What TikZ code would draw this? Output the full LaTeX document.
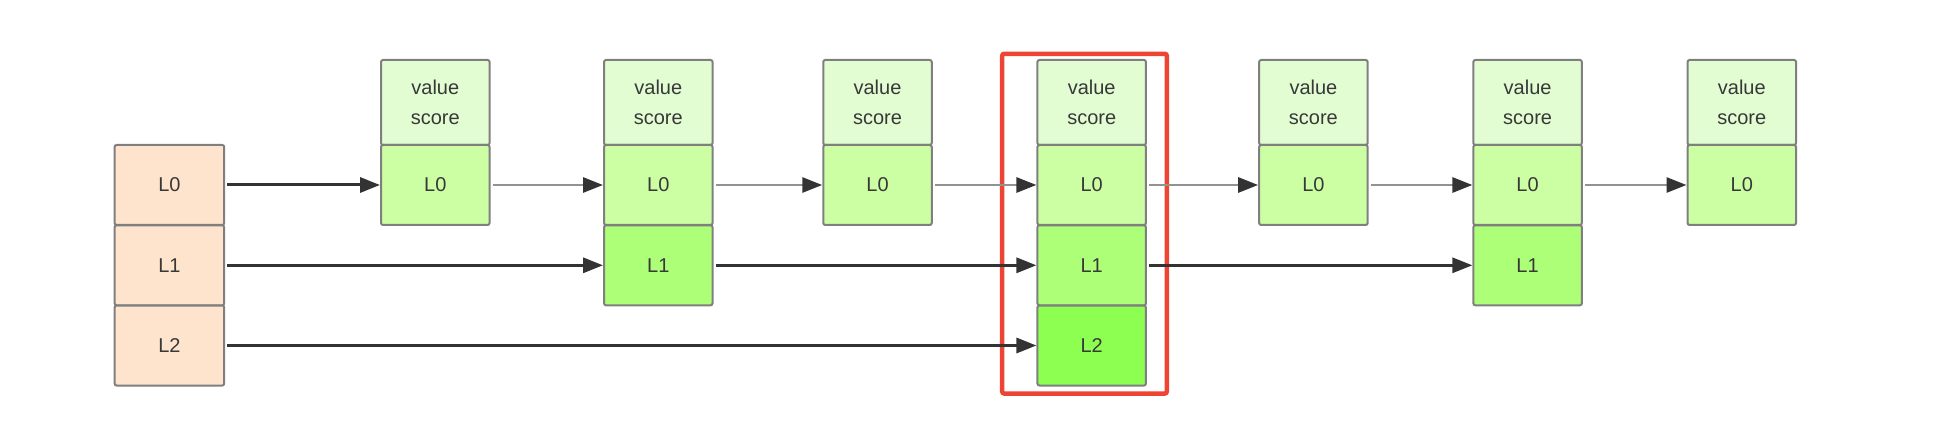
\documentclass[tikz,border=0pt]{standalone}
\usepackage{fontspec}
\setmainfont{Liberation Sans}
\usetikzlibrary{arrows.meta}
\definecolor{bordergray}{HTML}{7F7F7F}
\definecolor{txt}{HTML}{383838}
\definecolor{hdrfill}{HTML}{E3FDD3}
\definecolor{lzero}{HTML}{CCFFA3}
\definecolor{lone}{HTML}{ADFF78}
\definecolor{ltwo}{HTML}{8CFF50}
\definecolor{peach}{HTML}{FEE4CC}
\definecolor{darkline}{HTML}{333333}
\definecolor{grayline}{HTML}{929292}
\definecolor{redframe}{HTML}{EE4433}
\tikzset{
  cell/.style={draw=bordergray, line width=2pt, rounded corners=2pt, inner sep=0pt,
    minimum width=108.5pt, minimum height=80pt, text=txt,
    font=\fontsize{20}{30}\selectfont},
  hdrcell/.style={cell, fill=hdrfill, minimum height=85pt, align=center},
  zcell/.style={cell, fill=lzero},
  ocell/.style={cell, fill=lone},
  tcell/.style={cell, fill=ltwo},
  headcell/.style={cell, fill=peach, minimum width=109.6pt},
  darkarrow/.style={draw=darkline, line width=3pt, shorten <=2pt,
    -{Triangle[length=20pt,width=15pt,color=darkline]}},
  grayarrow/.style={draw=grayline, line width=2.8pt, shorten <=2pt,
    -{Triangle[length=20pt,width=15pt,color=darkline]}}
}
\begin{document}
\begin{tikzpicture}[x=1pt,y=-1pt]
\useasboundingbox (0,0) rectangle (1953,430);
% head
\node[headcell] (h0) at (169.4,185) {L0};
\node[headcell] (h1) at (169.4,265.3) {L1};
\node[headcell] (h2) at (169.4,345.5) {L2};
% column 1
\node[hdrcell] (c1h) at (435.3,102.5) {value\\score};
\node[zcell] (c1a) at (435.3,185) {L0};
% column 2
\node[hdrcell] (c2h) at (658.3,102.5) {value\\score};
\node[zcell] (c2a) at (658.3,185) {L0};
\node[ocell] (c2b) at (658.3,265.3) {L1};
% column 3
\node[hdrcell] (c3h) at (877.5,102.5) {value\\score};
\node[zcell] (c3a) at (877.5,185) {L0};
% column 4
\node[hdrcell] (c4h) at (1091.7,102.5) {value\\score};
\node[zcell] (c4a) at (1091.7,185) {L0};
\node[ocell] (c4b) at (1091.7,265.3) {L1};
\node[tcell] (c4c) at (1091.7,345.5) {L2};
% column 5
\node[hdrcell] (c5h) at (1313.4,102.5) {value\\score};
\node[zcell] (c5a) at (1313.4,185) {L0};
% column 6
\node[hdrcell] (c6h) at (1527.6,102.5) {value\\score};
\node[zcell] (c6a) at (1527.6,185) {L0};
\node[ocell] (c6b) at (1527.6,265.3) {L1};
% column 7
\node[hdrcell] (c7h) at (1741.8,102.5) {value\\score};
\node[zcell] (c7a) at (1741.8,185) {L0};
% highlight frame
\draw[redframe, line width=4.5pt, rounded corners=2pt] (1002.2,53.8) rectangle (1166.8,393.5);
% level 0
\draw[darkarrow] (h0.east) -- (c1a.west);
\draw[grayarrow] (c1a.east) -- (c2a.west);
\draw[grayarrow] (c2a.east) -- (c3a.west);
\draw[grayarrow] (c3a.east) -- (c4a.west);
\draw[grayarrow] (c4a.east) -- (c5a.west);
\draw[grayarrow] (c5a.east) -- (c6a.west);
\draw[grayarrow] (c6a.east) -- (c7a.west);
% level 1
\draw[darkarrow] (h1.east) -- (c2b.west);
\draw[darkarrow] (c2b.east) -- (c4b.west);
\draw[darkarrow] (c4b.east) -- (c6b.west);
% level 2
\draw[darkarrow] (h2.east) -- (c4c.west);
\end{tikzpicture}
\end{document}
